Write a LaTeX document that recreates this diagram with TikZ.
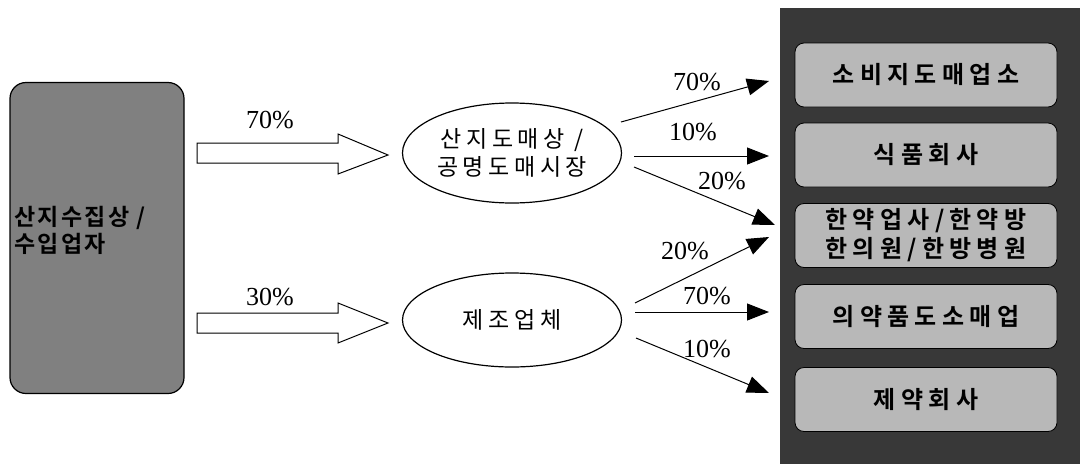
\documentclass[tikz,border=0pt]{standalone}
\usepackage{fontspec}
\setmainfont{Liberation Serif}
\newfontfamily\kr{Noto Sans CJK KR}[LetterSpace=20]
\newfontfamily\krb{Noto Sans CJK KR Bold}[LetterSpace=22]
\newfontfamily\krl{Noto Sans CJK KR Bold}[LetterSpace=10]
\usetikzlibrary{arrows.meta,shapes.geometric}
\begin{document}
\begin{tikzpicture}[x=1pt,y=-1pt,
  pct/.style={font=\fontsize{26}{28}\selectfont},
  dest/.style={draw=black,line width=0.8pt,rounded corners=9pt,fill=black!28,minimum width=262pt,minimum height=64pt,font=\krb\fontsize{24}{29}\selectfont,align=center,inner sep=0pt},
  mid/.style={draw=black,line width=1.2pt,ellipse,inner sep=0pt,font=\kr\fontsize{23}{28}\selectfont,align=center},
  flow/.style={draw=black,line width=1pt,-{Triangle[length=22pt,width=17pt]}},
  hollow/.style={draw=black,line width=1pt,fill=white}
]
\useasboundingbox (0,0) rectangle (1080,464);
% left source
\node[draw=black,line width=1.2pt,rounded corners=16pt,fill=black!50,minimum width=174pt,minimum height=311pt,inner sep=0pt] (src) at (97,238) {};
\node[anchor=west,font=\krl\fontsize{23}{27}\selectfont,align=left,inner sep=0pt] (srct) at (14,230) {산지수집상 /\\수입업자};
% middle ellipses
\node[mid,minimum width=219pt,minimum height=100pt] (m1) at (512,153) {산지도매상 /\\공명도매시장};
\node[mid,minimum width=219pt,minimum height=94pt] (m2) at (512,320) {제조업체};
% hollow arrows
\draw[hollow] (197,143) -- (338,143) -- (338,134) -- (388,155) -- (338,174) -- (338,163) -- (197,163) -- cycle;
\draw[hollow] (197,313) -- (338,313) -- (338,303) -- (388,323) -- (338,343) -- (338,333) -- (197,333) -- cycle;
\node[pct] (p1) at (270,120) {70\%};
\node[pct] (p2) at (270,297) {30\%};
% right panel
\fill[black!78] (780,8) rectangle (1080,464);
\node[dest] (d1) at (926,75) {소비지도매업소};
\node[dest] (d2) at (926,155) {식품회사};
\node[dest] (d3) at (926,235.5) {한약업사/한약방\\한의원/한방병원};
\node[dest] (d4) at (926,316.5) {의약품도소매업};
\node[dest] (d5) at (926,399.5) {제약회사};
% target coordinates
\coordinate (t1) at (769,81);
\coordinate (t2) at (769,156);
\coordinate (t3) at (775,225);
\coordinate (t4) at (769,237);
\coordinate (t5) at (769,312);
\coordinate (t6) at (769,393);
\coordinate (s1) at (621,122);
\coordinate (s2) at (634,156);
\coordinate (s3) at (634,167);
\coordinate (s4) at (635,303);
\coordinate (s5) at (635,312);
\coordinate (s6) at (636,338);
\draw[flow] (s1) -- (t1);
\draw[flow] (s2) -- (t2);
\draw[flow] (s3) -- (t3);
\draw[flow] (s4) -- (t4);
\draw[flow] (s5) -- (t5);
\draw[flow] (s6) -- (t6);
\node[pct] (l1) at (697,82) {70\%};
\node[pct] (l2) at (693,132) {10\%};
\node[pct] (l3) at (722,181) {20\%};
\node[pct] (l4) at (685,251) {20\%};
\node[pct] (l5) at (707,296) {70\%};
\node[pct] (l6) at (707,349) {10\%};
\end{tikzpicture}
\end{document}
